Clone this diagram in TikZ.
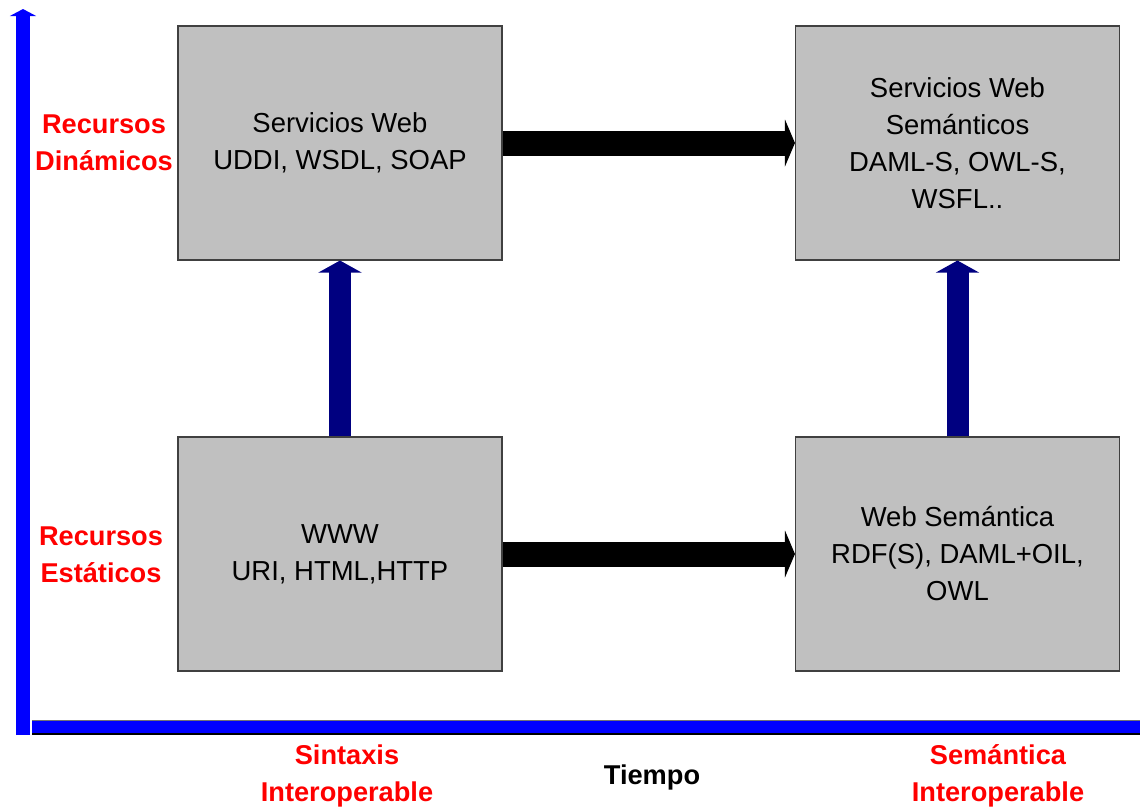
\documentclass[tikz,border=0pt]{standalone}
\usepackage{fontspec}
\setmainfont{Liberation Sans}
\usetikzlibrary{arrows.meta,positioning}
\definecolor{boxgray}{RGB}{192,192,192}
\definecolor{axisblue}{RGB}{0,0,255}
\definecolor{upnavy}{RGB}{0,0,128}

\tikzset{
  stagebox/.style={draw=black!75,line width=0.8pt,fill=boxgray,minimum width=243pt,
    minimum height=175.5pt,inner sep=0pt,align=center,font=\fontsize{20.6}{27.75}\selectfont},
  axislabel/.style={text=red,align=center,font=\fontsize{20.4}{27.75}\selectfont\bfseries},
  flatarrow/.style={line width=18.75pt,-{Triangle[length=7.5pt,width=35pt]}},
  riseuparrow/.style={upnavy,line width=16.5pt,-{Triangle[length=9pt,width=32pt]}},
}

\begin{document}
\begin{tikzpicture}[x=0.75pt,y=-0.75pt,line join=miter]
\useasboundingbox (0,0) rectangle (1140,811);
% ejes
\coordinate (origen) at (23,735);
\coordinate (ytope) at (23,9);
\coordinate (xini) at (32,727);
\coordinate (xfin) at (1140,727);
\draw[axisblue,line width=10.5pt] (xini) -- (xfin);
\draw[black!55,line width=0.6pt] (32,720) -- (1140,720);
\draw[black,line width=0.8pt] (32,734) -- (1140,734);
\draw[axisblue,line width=10.5pt,-{Triangle[length=5.25pt,width=19.5pt]}] (origen) -- (ytope);
% cajas
\node[stagebox] (sw) at (340,143) {Servicios Web\\UDDI, WSDL, SOAP};
\node[stagebox] (sws) at (957.5,143) {Servicios Web\\Semánticos\\DAML-S, OWL-S,\\WSFL..};
\node[stagebox] (www) at (340,554) {WWW\\URI, HTML,HTTP};
\node[stagebox] (ws) at (957.5,554) {Web Semántica\\RDF(S), DAML+OIL,\\OWL};
% flechas
\draw[flatarrow] (sw.east) -- (sws.west);
\draw[flatarrow] (www.east) -- (ws.west);
\draw[riseuparrow] (www.north) -- (sw.south);
\draw[riseuparrow] (ws.north) -- (sws.south);
% etiquetas
\node[axislabel] (dinamicos) at (104,143) {Recursos\\Dinámicos};
\node[axislabel] (estaticos) at (101,555) {Recursos\\Estáticos};
\node[axislabel] (sintaxis) at (347,776) {Sintaxis\\Interoperable};
\node[axislabel,text=black] (tiempo) at (652,777) {Tiempo};
\node[axislabel] (semantica) at (998,776) {Semántica\\Interoperable};
\end{tikzpicture}
\end{document}
